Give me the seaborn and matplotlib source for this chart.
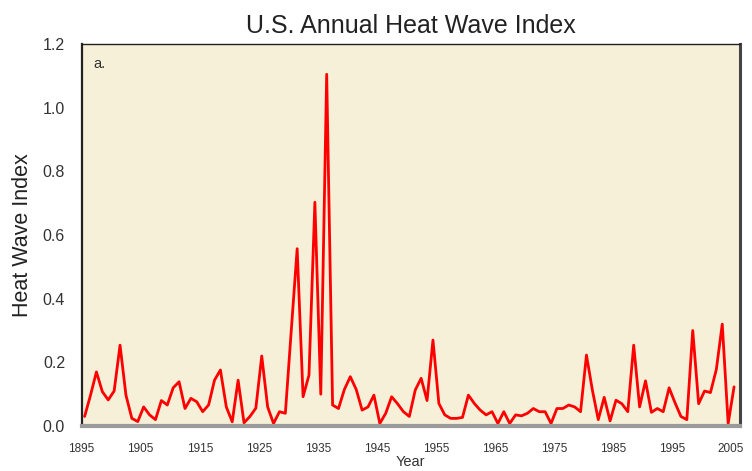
import numpy as np
import pandas as pd
import seaborn as sns
import matplotlib.pyplot as plt

sns.set_theme(style="white")
plt.rcParams["font.family"] = ["Liberation Sans", "DejaVu Sans"]

years = list(range(1895, 2006))
heat_index = [
    0.03, 0.097, 0.17, 0.108, 0.082, 0.11, 0.254, 0.097, 0.024, 0.014,  # 1895-1904
    0.06, 0.035, 0.02, 0.08, 0.066, 0.12, 0.139, 0.055, 0.087, 0.076,   # 1905-1914
    0.045, 0.066, 0.144, 0.176, 0.06, 0.013, 0.144, 0.01, 0.03, 0.056,  # 1915-1924
    0.22, 0.06, 0.008, 0.045, 0.04, 0.30, 0.557, 0.092, 0.16, 0.703,    # 1925-1934
    0.10, 1.105, 0.066, 0.055, 0.115, 0.155, 0.115, 0.05, 0.06, 0.097,  # 1935-1944
    0.008, 0.04, 0.092, 0.07, 0.045, 0.03, 0.113, 0.15, 0.08, 0.27,     # 1945-1954
    0.071, 0.035, 0.024, 0.024, 0.027, 0.097, 0.071, 0.05, 0.035, 0.045,  # 1955-1964
    0.008, 0.045, 0.008, 0.035, 0.032, 0.04, 0.055, 0.045, 0.045, 0.008,  # 1965-1974
    0.055, 0.055, 0.066, 0.06, 0.045, 0.223, 0.113, 0.02, 0.09, 0.016,  # 1975-1984
    0.081, 0.07, 0.045, 0.254, 0.06, 0.142, 0.043, 0.055, 0.045, 0.12,  # 1985-1994
    0.073, 0.03, 0.02, 0.30, 0.07, 0.11, 0.105, 0.178, 0.32, 0.008,     # 1995-2004
    0.123,                                                              # 2005
]
year_ticks = list(range(1895, 2006, 10))
value_ticks = [0.0, 0.2, 0.4, 0.6, 0.8, 1.0, 1.2]

df = pd.DataFrame({"year": years, "index": heat_index})
df["x"] = df["year"] + 0.5  # annual values plotted at mid-year

fig = plt.figure(figsize=(7.52, 4.71), dpi=100)
ax = fig.add_axes([0.1086, 0.0955, 0.8754, 0.811])
ax.set_facecolor("#F6F0D8")

sns.lineplot(data=df, x="x", y="index", ax=ax, color="#FF0000", linewidth=2.0)

ax.set_xlim(1895.2, 2006.5)
ax.set_ylim(0, 1.2)
ax.set_xticks(year_ticks)
ax.set_xticklabels([str(y) for y in year_ticks], fontsize=8.5, color="#333333")
ax.set_yticks(value_ticks)
ax.set_yticklabels([f"{v:.1f}" for v in value_ticks], fontsize=11.5, color="#333333")
ax.tick_params(axis="x", direction="out", length=3, width=1, color="#555555", pad=9)
ax.tick_params(axis="y", direction="out", length=6, width=1.2, color="#333333", pad=6)

for side in ["left", "top"]:
    ax.spines[side].set_color("#222222")
ax.spines["left"].set_linewidth(1.6)
ax.spines["top"].set_linewidth(1.0)
ax.spines["right"].set_color("#444444")
ax.spines["right"].set_linewidth(2.2)
ax.spines["bottom"].set_color("#9A9A9A")
ax.spines["bottom"].set_linewidth(3.0)

ax.set_xlabel("Year", fontsize=10.5, color="#333333", labelpad=0)
ax.set_ylabel("Heat Wave Index", fontsize=15.5, color="#222222", labelpad=7)
ax.set_title("U.S. Annual Heat Wave Index", fontsize=18, color="#222222", pad=8)
ax.text(0.018, 0.965, "a.", transform=ax.transAxes, fontsize=10.5,
        color="#333333", va="top", ha="left")

fig.savefig("out.png", dpi=100)
plt.close(fig)
